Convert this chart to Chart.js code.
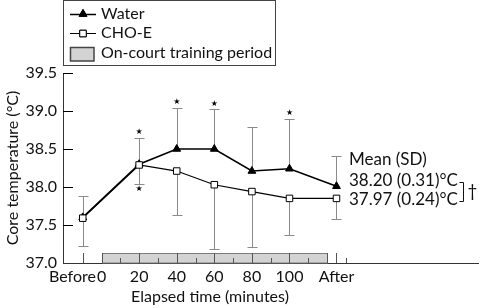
<!DOCTYPE html>
<html><head><meta charset="utf-8">
<script src="https://cdn.jsdelivr.net/npm/chart.js@4"></script>
<style>html,body{margin:0;padding:0;background:#fff}canvas{display:block}</style>
</head><body>
<canvas id="c" width="484" height="308"></canvas>
<script>
// ---- data ----
const timePoints = [-10, 20, 40, 60, 80, 100, 125];           // minutes ("Before" = -10, "After" = 125)
const waterMean  = [37.60, 38.30, 38.50, 38.50, 38.21, 38.24, 38.01];
const waterSD    = [0.28, 0.35, 0.54, 0.52, 0.58, 0.66, 0.40];  // drawn upward
const choMean    = [37.59, 38.29, 38.21, 38.03, 37.94, 37.85, 37.85];
const choSD      = [0.36, 0.25, 0.58, 0.84, 0.73, 0.48, 0.27];  // drawn downward
const waterStar  = [false, true, true, true, false, true, false];
const choStar    = [false, true, false, false, false, false, false];
const xTickValues = [-10, 0, 20, 40, 60, 80, 100, 125];
const xTickLabels = ['Before', '0', '20', '40', '60', '80', '100', 'After'];
const yTickValues = [37.0, 37.5, 38.0, 38.5, 39.0, 39.5];
const trainingPeriod = [0, 120];
const majorMarks = [-10, 0, 20, 40, 60, 80, 100, 120, 125];
const minorMarks = [10, 30, 50, 70, 90, 110, 130];
const legendLabels = ['Water', 'CHO-E', 'On-court training period'];
const summaryLines = ['Mean (SD)', '38.20 (0.31)\u00B0C', '37.97 (0.24)\u00B0C'];
const yTitle = 'Core temperature (\u00B0C)';
const xTitle = 'Elapsed time (minutes)';

const FONT = 'Lato, "DejaVu Sans", sans-serif';
Chart.defaults.font.family = FONT;
Chart.defaults.color = '#111';

const ERR = '#8a8a8a';

function drawMarker(ctx, style, r, fill, x, y) {
  ctx.save();
  ctx.fillStyle = fill; ctx.strokeStyle = '#000'; ctx.lineWidth = 1;
  Chart.helpers.drawPoint(ctx, {pointStyle: style, radius: r, borderWidth: 1, rotation: 0}, x, y);
  ctx.fill(); ctx.stroke();
  ctx.restore();
}

const decor = {
  id: 'decor',
  beforeDatasetsDraw(chart) {
    const {ctx, scales: {x, y}} = chart;
    const base = y.getPixelForValue(37);
    ctx.save();
    // training period bar
    const x0 = Math.round(x.getPixelForValue(trainingPeriod[0])) + 0.5;
    const x1 = Math.round(x.getPixelForValue(trainingPeriod[1])) + 0.5;
    ctx.fillStyle = '#d3d3d3';
    ctx.fillRect(x0, base - 10, x1 - x0, 10);
    ctx.strokeStyle = '#7a7a7a'; ctx.lineWidth = 1;
    ctx.strokeRect(x0, base - 9.5, x1 - x0, 9.5);
    // tick marks on x axis
    ctx.strokeStyle = '#555';
    majorMarks.forEach(m => {
      const px = Math.round(x.getPixelForValue(m)) + 0.5;
      ctx.beginPath(); ctx.moveTo(px, base - 10); ctx.lineTo(px, base); ctx.stroke();
    });
    minorMarks.forEach(m => {
      const px = Math.round(x.getPixelForValue(m)) + 0.5;
      ctx.beginPath(); ctx.moveTo(px, base - 5); ctx.lineTo(px, base); ctx.stroke();
    });
    // inward y ticks
    ctx.strokeStyle = '#000';
    yTickValues.forEach(v => {
      if (v === 37) return;
      const py = Math.round(y.getPixelForValue(v)) + 0.5;
      ctx.beginPath(); ctx.moveTo(x.left, py); ctx.lineTo(x.left + 10, py); ctx.stroke();
    });
    // error bars
    ctx.strokeStyle = ERR; ctx.lineWidth = 1;
    const bar = (t, m, e) => {
      const px = Math.round(x.getPixelForValue(t)) + 0.5;
      const p0 = y.getPixelForValue(m);
      const p1 = Math.round(y.getPixelForValue(m + e)) + 0.5;
      ctx.beginPath(); ctx.moveTo(px, p0); ctx.lineTo(px, p1);
      ctx.moveTo(px - 5, p1); ctx.lineTo(px + 5, p1); ctx.stroke();
    };
    timePoints.forEach((t, i) => {
      bar(t, waterMean[i], waterSD[i]);
      bar(t, choMean[i], -choSD[i]);
    });
    ctx.restore();
  },
  afterDatasetsDraw(chart) {
    const {ctx, scales: {x, y}} = chart;
    ctx.save();
    // significance stars
    ctx.fillStyle = '#000';
    ctx.font = '8px "DejaVu Sans"';
    ctx.textAlign = 'center'; ctx.textBaseline = 'middle';
    timePoints.forEach((t, i) => {
      const px = x.getPixelForValue(t);
      if (waterStar[i]) ctx.fillText('\u2605', px, y.getPixelForValue(waterMean[i] + waterSD[i]) - 6);
      if (choStar[i]) ctx.fillText('\u2605', px, y.getPixelForValue(choMean[i] - choSD[i]) + 5);
    });
    // legend
    ctx.strokeStyle = '#444'; ctx.lineWidth = 1;
    ctx.strokeRect(63.5, 0.5, 212, 65);
    ctx.strokeStyle = '#000';
    ctx.lineWidth = 1.5;
    ctx.beginPath(); ctx.moveTo(70, 14.5); ctx.lineTo(96, 14.5); ctx.stroke();
    drawMarker(ctx, 'triangle', 4.5, '#000', 83, 14);
    ctx.lineWidth = 1;
    ctx.beginPath(); ctx.moveTo(70, 33.5); ctx.lineTo(96, 33.5); ctx.stroke();
    drawMarker(ctx, 'rect', 4.6, '#fff', 83, 33.5);
    ctx.fillStyle = '#d3d3d3'; ctx.fillRect(70, 47, 24, 14);
    ctx.strokeStyle = '#444'; ctx.lineWidth = 1.5; ctx.strokeRect(70.5, 47.5, 23.5, 13.5);
    ctx.fillStyle = '#111';
    ctx.font = '16px ' + FONT;
    ctx.textAlign = 'left'; ctx.textBaseline = 'middle';
    [14, 33, 53].forEach((yy, i) => ctx.fillText(legendLabels[i], 101, yy));
    // summary annotation
    ctx.font = '17px ' + FONT;
    const sx = 349;
    const sy = [160, 181, 200];
    summaryLines.forEach((s, i) => ctx.fillText(s, sx, sy[i]));
    const w = Math.max(ctx.measureText(summaryLines[1]).width, ctx.measureText(summaryLines[2]).width);
    const bx = Math.round(sx + w + 5) + 0.5;
    ctx.strokeStyle = '#111'; ctx.lineWidth = 1;
    ctx.beginPath();
    ctx.moveTo(bx - 4, sy[1] + 1.5); ctx.lineTo(bx, sy[1] + 1.5); ctx.lineTo(bx, sy[2] + 1.5); ctx.lineTo(bx - 4, sy[2] + 1.5);
    ctx.stroke();
    ctx.fillText('\u2020', bx + 4, (sy[1] + sy[2]) / 2 + 1);
    // x axis title
    ctx.font = '16px ' + FONT;
    ctx.textAlign = 'center';
    ctx.fillText(xTitle, 210, 297);
    ctx.restore();
  }
};

new Chart(document.getElementById('c'), {
  type: 'line',
  data: {
    datasets: [
      { label: legendLabels[1], data: timePoints.map((t, i) => ({x: t, y: choMean[i]})),
        borderColor: '#000', borderWidth: 1.2, pointStyle: 'rect', pointRadius: 4.6,
        pointBackgroundColor: '#fff', pointBorderColor: '#000', pointBorderWidth: 1, order: 0 },
      { label: legendLabels[0], data: timePoints.map((t, i) => ({x: t, y: waterMean[i]})),
        borderColor: '#000', borderWidth: 1.6, pointStyle: 'triangle', pointRadius: 4.5,
        pointBackgroundColor: '#000', pointBorderColor: '#000', pointBorderWidth: 1, order: 1 }
    ]
  },
  options: {
    responsive: false, animation: false, devicePixelRatio: 1,
    layout: {padding: {top: 73, right: 3, left: 0, bottom: 0}},
    plugins: {legend: {display: false}, tooltip: {enabled: false}},
    scales: {
      x: {
        type: 'linear', min: -20.5, max: 200.5,
        afterBuildTicks: s => { s.ticks = xTickValues.map(v => ({value: v})); },
        afterFit: s => { s.height = 45; },
        ticks: { autoSkip: false, maxRotation: 0, padding: 4, color: '#111', font: {size: 16},
          callback: (v, i) => i === 0 ? xTickLabels[i] + '\u00A0\u00A0\u00A0\u00A0\u00A0' : xTickLabels[i] },
        grid: {display: false, drawTicks: false},
        border: {display: true, color: '#333', width: 1}
      },
      y: {
        min: 37, max: 39.5,
        afterBuildTicks: s => { s.ticks = yTickValues.map(v => ({value: v})); },
        afterFit: s => { s.width = 63; },
        ticks: { padding: 6, color: '#111', font: {size: 16}, callback: v => Number(v).toFixed(1) },
        grid: {display: false, drawTicks: false},
        border: {display: true, color: '#333', width: 1},
        title: {display: true, text: yTitle, color: '#111', font: {size: 16}, padding: {top: 3, bottom: 0}}
      }
    }
  },
  plugins: [decor]
});
</script>
</body></html>
